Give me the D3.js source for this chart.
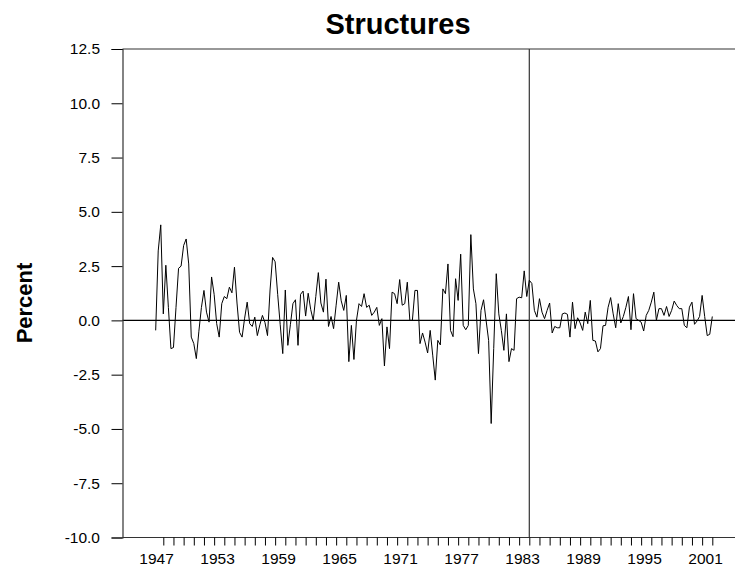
<!DOCTYPE html>
<html>
<head>
<meta charset="utf-8">
<script src="https://cdn.jsdelivr.net/npm/d3@7"></script>
<style>
  html, body { margin: 0; padding: 0; background: #fff; }
  svg { display: block; }
  text { font-family: "Liberation Sans", Arial, Helvetica, sans-serif; }
</style>
</head>
<body>
<svg id="chart" width="735" height="570"></svg>
<script>
// ---- data ----
const title = "Structures";
const yLabel = "Percent";
const firstQuarter = { year: 1946, quarter: 2 };
// quarterly percent values, 1946Q2 .. 2001Q1
const values = [
  -0.46, 3.2, 4.4, 0.3, 2.54, 0.6, -1.3, -1.25, 0.6, 2.4,
  2.5, 3.45, 3.75, 2.6, -0.77, -1.07, -1.76, -0.5, 0.6, 1.38,
  0.38, -0.08, 2.0, 1.2, -0.15, -0.77, 0.77, 1.1, 1.0, 1.53,
  1.27, 2.45, 0.8, -0.55, -0.77, 0.1, 0.84, -0.15, -0.28, 0.15,
  -0.7, -0.2, 0.23, -0.1, -0.7, 1.4, 2.9, 2.7, 1.2, -0.2,
  -1.53, 1.4, -1.15, -0.2, 0.77, 0.95, -1.15, 1.2, 1.35, 0.2,
  1.25, 0.5, 0.0, 1.1, 2.2, 0.8, 0.38, 1.9, -0.28, 0.18,
  -0.38, 0.7, 1.76, 0.9, 0.46, 1.15, -1.9, -0.23, -1.8, 0.0,
  0.77, 0.64, 1.23, 0.6, 0.7, 0.23, 0.38, 0.6, -0.23, 0.08,
  -2.1, -0.3, -1.3, 1.3, 1.23, 0.77, 1.88, 0.7, 0.77, 1.76,
  0.0, 0.0, 1.38, 1.38, -1.07, -0.58, -1.0, -1.5, -0.46, -1.6,
  -2.75, -0.92, -1.13, 1.45, 1.23, 2.6, -0.46, -0.75, 1.92, 0.92,
  3.05, -0.23, -0.43, -0.23, 3.95, 1.45, 0.77, -1.53, 0.46, 0.95,
  0.0, -0.92, -4.75, -1.3, 2.15, 0.3, -0.46, -1.38, 0.3, -1.9,
  -1.3, -1.38, 1.0, 1.07, 1.04, 2.28, 1.1, 1.85, 1.7, 0.46,
  0.15, 1.0, 0.38, 0.08, 0.46, 0.8, -0.58, -0.28, -0.34, -0.34,
  0.3, 0.34, 0.28, -0.77, 0.84, -0.38, 0.12, -0.12, -0.46, 0.38,
  -0.15, 0.92, -0.92, -0.95, -1.45, -1.3, -0.25, -0.23, 0.6, 1.05,
  0.3, -0.34, 0.77, -0.12, 0.18, 0.6, 1.1, -0.43, 1.23, 0.08,
  0.0, -0.08, -0.49, 0.23, 0.46, 0.84, 1.3, 0.0, 0.54, 0.54,
  0.23, 0.64, 0.18, 0.46, 0.89, 0.69, 0.54, 0.54, -0.23, -0.34,
  0.61, 0.84, -0.18, -0.03, 0.18, 1.15, 0.18, -0.7, -0.64, 0.18
];
const yTicks = [12.5, 10.0, 7.5, 5.0, 2.5, 0.0, -2.5, -5.0, -7.5, -10.0];
const yTickLabels = ["12.5", "10.0", "7.5", "5.0", "2.5", "0.0", "-2.5", "-5.0", "-7.5", "-10.0"];
const xTickYears = [1947,1948,1949,1950,1951,1952,1953,1954,1955,1956,1957,1958,1959,1960,
  1961,1962,1963,1964,1965,1966,1967,1968,1969,1970,1971,1972,1973,1974,1975,1976,1977,
  1978,1979,1980,1981,1982,1983,1984,1985,1986,1987,1988,1989,1990,1991,1992,1993,1994,
  1995,1996,1997,1998,1999,2000,2001];
const xLabelYears = [1947, 1953, 1959, 1965, 1971, 1977, 1983, 1989, 1995, 2001];
const markerYear = 1983;

// ---- layout ----
const plotLeft = 122.5, plotTop = 49, plotBottom = 537.5, plotRight = 735;

const svg = d3.select("#chart");

const x = d3.scaleLinear().domain([1947, 1983]).range([163.3, 529.3]);
const y = d3.scaleLinear().domain([-10, 12.5]).range([plotBottom, plotTop]);

const points = values.map((v, i) => ({
  t: firstQuarter.year + (firstQuarter.quarter - 1) / 4 + i / 4,
  v: v
}));

// top border line
svg.append("line")
  .attr("x1", plotLeft).attr("x2", plotRight)
  .attr("y1", y(12.5)).attr("y2", y(12.5))
  .attr("stroke", "#333").attr("stroke-width", 1.2);

// zero line
svg.append("line")
  .attr("x1", plotLeft).attr("x2", plotRight)
  .attr("y1", y(0)).attr("y2", y(0))
  .attr("stroke", "#000").attr("stroke-width", 1.2);

// y axis
const yAxis = d3.axisLeft(y)
  .tickValues(yTicks)
  .tickFormat((d, i) => yTickLabels[i])
  .tickSize(11)
  .tickPadding(11.5);
const gy = svg.append("g")
  .attr("transform", `translate(${plotLeft},0)`)
  .call(yAxis);
gy.select(".domain").attr("stroke", "#333").attr("stroke-width", 1.2);
gy.selectAll(".tick line").attr("stroke", "#000");
gy.selectAll(".tick text")
  .attr("font-size", 15.5)
  .attr("fill", "#000")
  .style("font-family", '"Liberation Sans", Arial, sans-serif');

// x axis line
svg.append("line")
  .attr("x1", plotLeft).attr("x2", plotRight)
  .attr("y1", plotBottom).attr("y2", plotBottom)
  .attr("stroke", "#333").attr("stroke-width", 1.2);

// x ticks
const xAxis = d3.axisBottom(x)
  .tickValues(xTickYears)
  .tickFormat("")
  .tickSize(8)
  .tickSizeOuter(0);
const gx = svg.append("g")
  .attr("transform", `translate(0,${plotBottom})`)
  .call(xAxis);
gx.select(".domain").remove();
gx.selectAll(".tick line").attr("stroke", "#000");

// x labels (slightly left of their ticks, as in the original)
svg.append("g").selectAll("text")
  .data(xLabelYears)
  .join("text")
  .attr("x", d => x(d) - 6.7)
  .attr("y", 564)
  .attr("text-anchor", "middle")
  .attr("font-size", 15.5)
  .attr("fill", "#000")
  .text(d => String(d));

// vertical marker line
svg.append("line")
  .attr("x1", x(markerYear)).attr("x2", x(markerYear))
  .attr("y1", plotTop).attr("y2", plotBottom)
  .attr("stroke", "#333").attr("stroke-width", 1.2);

// data line
const line = d3.line()
  .x(d => x(d.t))
  .y(d => y(d.v));
svg.append("path")
  .datum(points)
  .attr("d", line)
  .attr("fill", "none")
  .attr("stroke", "#000")
  .attr("stroke-width", 1)
  .attr("stroke-linejoin", "miter");

// title
svg.append("text")
  .attr("x", 398)
  .attr("y", 34)
  .attr("text-anchor", "middle")
  .attr("font-size", 29)
  .attr("font-weight", "bold")
  .attr("fill", "#000")
  .text(title);

// y label
svg.append("text")
  .attr("transform", `translate(31.5,303) rotate(-90)`)
  .attr("text-anchor", "middle")
  .attr("font-size", 22)
  .attr("font-weight", "bold")
  .attr("fill", "#000")
  .text(yLabel);
</script>
</body>
</html>
